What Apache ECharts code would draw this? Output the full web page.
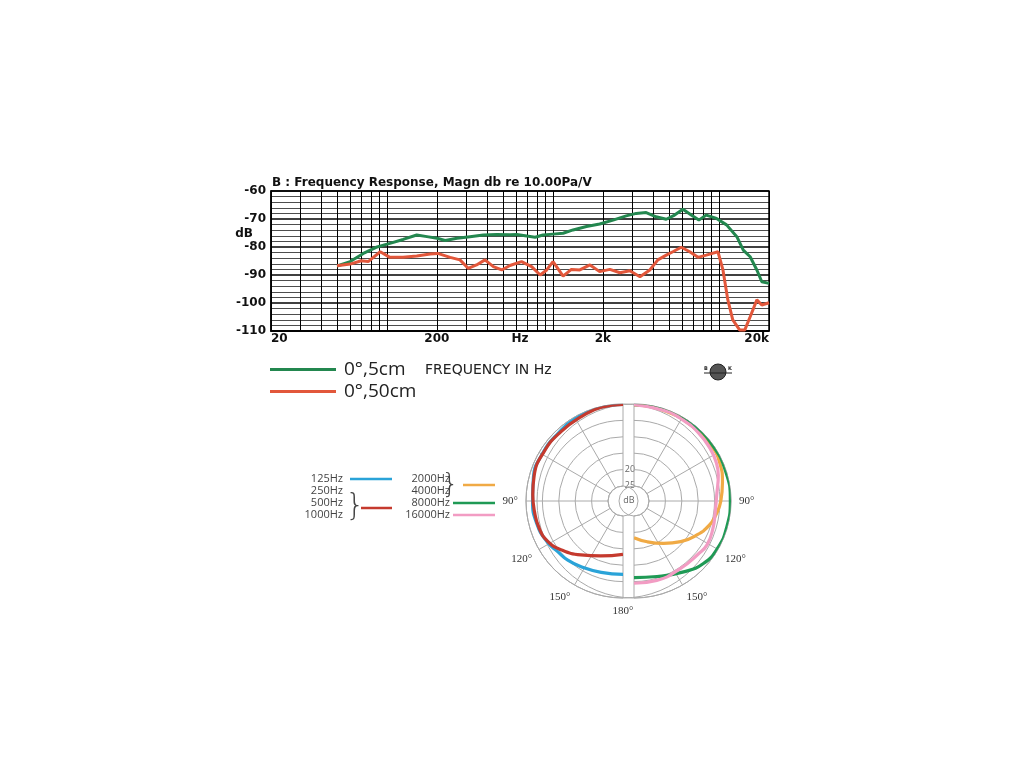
<!DOCTYPE html>
<html><head><meta charset="utf-8">
<script src="https://cdn.jsdelivr.net/npm/echarts@6/dist/echarts.min.js"></script>
<style>html,body{margin:0;padding:0;background:#fff}#c{width:1024px;height:768px}</style>
</head><body><div id="c"></div>
<script>
// ---------- Frequency response (top) ----------
const freqMin = 20, freqMax = 20000;
const freqLabels = {20:'20', 200:'200', 2000:'2k', 20000:'20k'};
const minorFreqs = [30,40,50,60,70,80,90,100,300,400,500,600,700,800,900,1000,3000,4000,5000,6000,7000,8000,9000,10000];
const dbMin = -110, dbMax = -60, dbStep = 10;

const green5cm = [[50,-86.8],[60,-85.2],[72,-82.3],[86,-80.1],[104,-78.7],[125,-77.3],[151,-75.7],[174,-76.3],[200,-76.9],[224,-77.7],[264,-76.9],[316,-76.3],[380,-75.7],[458,-75.5],[550,-75.6],[605,-75.5],[695,-76.1],[780,-76.5],[870,-75.7],[1000,-75.4],[1150,-75.1],[1320,-73.9],[1590,-72.7],[1910,-71.8],[2300,-70.4],[2760,-68.9],[3170,-68],[3640,-67.7],[4180,-69.2],[4810,-70.1],[5400,-68.6],[6060,-66.5],[6800,-68.6],[7560,-70.4],[8380,-68.6],[9660,-69.8],[11100,-72.1],[12800,-76.3],[14000,-81.1],[15400,-83.5],[16900,-88.2],[18100,-92.4],[20000,-93]];
const red50cm = [[50,-86.7],[60,-86.1],[70,-84.9],[77,-85.2],[91,-81.7],[104,-83.7],[125,-83.7],[151,-83.2],[182,-82.5],[202,-82.3],[240,-83.7],[275,-84.6],[308,-87.6],[346,-86.4],[389,-84.6],[437,-87],[491,-88.2],[550,-86.6],[646,-85.2],[743,-87],[837,-90],[916,-88.2],[1000,-85.2],[1150,-90.4],[1290,-88],[1450,-88.2],[1670,-86.4],[1910,-88.8],[2200,-88],[2530,-89.2],[2900,-88.5],[3340,-90.6],[3830,-88.2],[4280,-84.6],[4810,-82.9],[5270,-81.7],[5920,-80.1],[6660,-81.7],[7470,-83.7],[8380,-82.9],[9850,-81.7],[10560,-88.2],[11300,-98.9],[12100,-106],[13300,-109.6],[14300,-109.6],[15400,-104.9],[16900,-98.9],[18100,-100.7],[20000,-99.9]];

// ---------- Polar patterns (bottom) : [angle deg, dB] ----------
const angleLabels = {90:'90°', 120:'120°', 150:'150°', 180:'180°'};
const ringMin = -25, ringMax = 0, ringStep = 5;
const blue125_250 = [[0,-0.1],[15,-0.2],[30,-0.6],[45,-1.0],[60,-1.1],[75,-1.3],[90,-2.0],[105,-2.4],[118,-3.3],[128,-4.4],[137,-4.9],[147,-5.8],[163,-6.8],[180,-7.2]];
const red500_1000 = [[0,-0.1],[13,-0.2],[26,-0.9],[42,-1.2],[58,-1.2],[74,-1.4],[86,-2.0],[97,-2.4],[108,-2.7],[118,-3.5],[128,-5.5],[142,-8.7],[158,-11.5],[180,-13.3]];
const orange2000_4000 = [[0,-0.3],[20,-0.5],[40,-0.7],[55,-0.6],[65,-0.9],[78,-2],[90,-3.1],[100,-4.3],[108,-5.5],[118,-7.7],[131,-10.7],[145,-13.8],[162,-16.5],[180,-18.4]];
const green8000 = [[0,-0.2],[18,-0.2],[37,-0.2],[54,-0.2],[72,-0.2],[90,-0.2],[106,-0.2],[119,-0.3],[132,-1.1],[145,-3.2],[163,-5.5],[180,-6.2]];
const pink16000 = [[0,-0.2],[18,-0.5],[31,-0.7],[44,-1.0],[56,-1.4],[65,-1.9],[73,-2.7],[86,-4.3],[97,-4.6],[109,-4.1],[121,-3.6],[130,-4.2],[145,-4.6],[164,-4.4],[180,-4.5]];

const C = {green:'#23874f', red:'#e2573b', pBlue:'#2aa3d8', pRed:'#c53a2e', pOrange:'#f0aa45', pGreen:'#1f9a55', pPink:'#f29cc3'};

const chart = echarts.init(document.getElementById('c'));
const boldFont = 'DejaVu Sans';
const polarData = arr => arr.map(p => [p[1], p[0]]);

function angleAxis(idx, left){
  return {
    polarIndex: idx, type:'value', min:0, max:180, interval:30,
    startAngle: 90, endAngle: left ? 270 : -90, clockwise: !left,
    axisLine:{show:true, lineStyle:{color:'#aaa', width:1}},
    axisTick:{show:false},
    splitLine:{show:true, lineStyle:{color:'#aaa', width:1}},
    axisLabel:{show:true, margin:8, color:'#333', fontFamily:'Liberation Serif', fontSize:11,
      formatter: v => (v===180 && !left) ? '' : (angleLabels[v] || '')}
  };
}
function radiusAxis(idx){
  return {
    polarIndex: idx, type:'value', min:ringMin, max:ringMax, interval:ringStep,
    axisLine:{show:false}, axisTick:{show:false}, axisLabel:{show:false},
    splitLine:{show:true, lineStyle:{color:'#aaa', width:1}}
  };
}

const legendRowsL = [['125Hz',479],['250Hz',491],['500Hz',503],['1000Hz',515]];
const legendRowsR = [['2000Hz',479],['4000Hz',491],['8000Hz',503],['16000Hz',515]];
const legendLines = [
  [350,392,479,C.pBlue],[361,392,508,C.pRed],[463,495,485,C.pOrange],[453,495,503,C.pGreen],[453,495,515,C.pPink]
];
const graphics = [];
legendRowsL.forEach(r => graphics.push({type:'text', x:343, y:r[1], style:{text:r[0], align:'right', verticalAlign:'middle', font:'11px "Open Sans"', fill:'#444'}}));
legendRowsR.forEach(r => graphics.push({type:'text', x:450, y:r[1], style:{text:r[0], align:'right', verticalAlign:'middle', font:'11px "Open Sans"', fill:'#444'}}));
legendLines.forEach(l => graphics.push({type:'line', shape:{x1:l[0], y1:l[2], x2:l[1], y2:l[2]}, style:{stroke:l[3], lineWidth:2.5}}));
graphics.push({type:'text', x:355, y:507, style:{text:'}', align:'center', verticalAlign:'middle', font:'200 30px "DejaVu Sans"', fill:'#444'}});
graphics.push({type:'text', x:450, y:485, style:{text:'}', align:'center', verticalAlign:'middle', font:'200 27px "DejaVu Sans"', fill:'#444'}});
// titles / labels
graphics.push({type:'text', x:272, y:183, style:{text:'B : Frequency Response, Magn db re 10.00Pa/V', align:'left', verticalAlign:'middle', font:'bold 12px "DejaVu Sans"', fill:'#111'}});
graphics.push({type:'text', x:244, y:234, style:{text:'dB', align:'center', verticalAlign:'middle', font:'bold 12px "DejaVu Sans"', fill:'#111'}});
graphics.push({type:'text', x:425, y:370, style:{text:'FREQUENCY IN Hz', align:'left', verticalAlign:'middle', font:'14px "DejaVu Sans"', fill:'#222'}});
// polar centre labels
graphics.push({type:'text', x:630, y:469, style:{text:'20', align:'center', verticalAlign:'middle', font:'9px "Open Sans"', fill:'#666', backgroundColor:'#fff'}});
graphics.push({type:'text', x:630, y:485, style:{text:'25', align:'center', verticalAlign:'middle', font:'9px "Open Sans"', fill:'#666', backgroundColor:'#fff'}});
graphics.push({type:'text', x:629, y:500, style:{text:'dB', align:'center', verticalAlign:'middle', font:'9px "Open Sans"', fill:'#666'}});
// small logo
graphics.push({type:'circle', shape:{cx:718, cy:372, r:8}, style:{fill:'#555', stroke:'#222', lineWidth:1}});
graphics.push({type:'line', shape:{x1:704, y1:373, x2:732, y2:373}, style:{stroke:'#222', lineWidth:1}});
graphics.push({type:'text', x:706, y:369, style:{text:'B', align:'center', verticalAlign:'middle', font:'bold 5px "DejaVu Sans"', fill:'#222'}});
graphics.push({type:'text', x:730, y:369, style:{text:'K', align:'center', verticalAlign:'middle', font:'bold 5px "DejaVu Sans"', fill:'#222'}});

const polarSeries = (name, idx, data, color) => ({type:'line', name, coordinateSystem:'polar', polarIndex:idx, data:polarData(data), smooth:true, clip:false, symbol:'none', lineStyle:{color, width:3.2}});

const option = {
  animation:false,
  backgroundColor:'#fff',
  textStyle:{fontFamily:'DejaVu Sans'},
  grid:{left:271, top:191, width:498, height:140, show:true, borderColor:'#000', borderWidth:1.5, backgroundColor:'transparent'},
  xAxis:{type:'log', logBase:10, min:freqMin, max:freqMax, interval:1,
    name:'Hz', nameLocation:'middle', nameGap:2, nameMoveOverlap:false,
    nameTextStyle:{fontFamily:boldFont, fontWeight:'bold', fontSize:12, color:'#111', verticalAlign:'top'},
    axisLine:{show:true, lineStyle:{color:'#000', width:1.5}}, axisTick:{show:false},
    splitLine:{show:true, lineStyle:{color:'#000', width:1}},
    axisLabel:{margin:2, color:'#111', fontFamily:boldFont, fontWeight:'bold', fontSize:12, alignMinLabel:'left', alignMaxLabel:'right',
      formatter: v => { const r = Math.round(v/10)*10; return freqLabels[r] || ''; }}
  },
  yAxis:{type:'value', min:dbMin, max:dbMax, interval:dbStep,
    axisLine:{show:true, lineStyle:{color:'#000', width:1.5}}, axisTick:{show:false},
    splitLine:{show:true, lineStyle:{color:'#000', width:1.6}},
    minorTick:{show:false, splitNumber:5},
    minorSplitLine:{show:true, lineStyle:{color:'#000', width:0.7}},
    axisLabel:{margin:5, color:'#111', fontFamily:boldFont, fontWeight:'bold', fontSize:12}
  },
  legend:{data:['0°,5cm','0°,50cm'], orient:'vertical', left:270, top:359, padding:0, icon:'rect', itemWidth:66, itemHeight:3, itemGap:1,
    textStyle:{fontFamily:'Open Sans', fontSize:19, color:'#222', lineHeight:21, padding:[0,0,0,3]}, selectedMode:false},
  polar:[{center:[623,501], radius:[15,97]},{center:[634,501], radius:[15,97]}],
  angleAxis:[angleAxis(0,true), angleAxis(1,false)],
  radiusAxis:[radiusAxis(0), radiusAxis(1)],
  graphic: graphics,
  series:[
    {type:'line', name:'grid', xAxisIndex:0, yAxisIndex:0, z:1, data:[[freqMin,dbMin]], symbol:'none', lineStyle:{opacity:0}, silent:true,
      markLine:{silent:true, symbol:['none','none'], label:{show:false}, lineStyle:{color:'#000', width:1, type:'solid'},
        data: minorFreqs.map(f => ({xAxis:f}))}},
    {type:'line', name:'0°,5cm', data:green5cm, symbol:'none', z:5, lineStyle:{color:C.green, width:3}, itemStyle:{color:C.green}},
    {type:'line', name:'0°,50cm', data:red50cm, symbol:'none', z:5, lineStyle:{color:C.red, width:3}, itemStyle:{color:C.red}},
    polarSeries('125Hz/250Hz', 0, blue125_250, C.pBlue),
    polarSeries('500Hz/1000Hz', 0, red500_1000, C.pRed),
    polarSeries('2000Hz/4000Hz', 1, orange2000_4000, C.pOrange),
    polarSeries('8000Hz', 1, green8000, C.pGreen),
    polarSeries('16000Hz', 1, pink16000, C.pPink)
  ]
};
chart.setOption(option);
</script></body></html>
